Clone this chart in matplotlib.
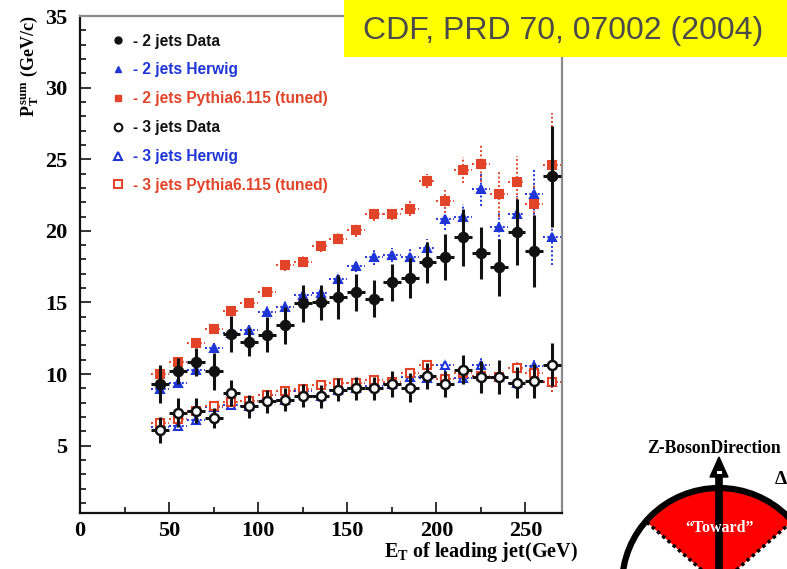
import numpy as np
import matplotlib.pyplot as plt
from matplotlib.patches import Rectangle, Wedge, Circle, Polygon
from matplotlib.lines import Line2D

plt.rcParams['mathtext.fontset'] = 'custom'
plt.rcParams['mathtext.rm'] = 'Liberation Serif:bold'
plt.rcParams['mathtext.it'] = 'Liberation Serif:bold'
plt.rcParams['mathtext.bf'] = 'Liberation Serif:bold'

# data
et = [45, 55, 65, 75, 85, 95, 105, 115, 125, 135, 145, 155, 165, 175, 185,
      195, 205, 215, 225, 235, 245, 255, 265]
et_half = 5

data2 = [9.3, 10.2, 10.85, 10.2, 12.8, 12.25, 12.75, 13.4, 14.95, 15.0, 15.4, 15.7,
         15.25, 16.4, 16.7, 17.8, 18.15, 19.55, 18.45, 17.45, 19.9, 18.6, 23.8]
data2_err = [1.3, 0.9, 1.0, 1.3, 1.25, 1.0, 1.2, 1.3, 1.3, 1.2, 1.55, 1.3, 1.3, 1.3,
             1.4, 1.45, 1.6, 2.0, 1.8, 2.0, 2.3, 2.5, 3.5]
herwig2 = [8.95, 9.35, 10.3, 11.8, 12.9, 13.1, 14.35, 14.7, 15.5, 15.65, 16.65, 17.55,
           18.15, 18.3, 18.2, 18.8, 20.85, 20.95, 22.9, 20.3, 21.2, 22.6, 19.6]
herwig2_err = [0.3, 0.3, 0.3, 0.35, 0.4, 0.35, 0.4, 0.4, 0.4, 0.4, 0.45, 0.45, 0.5,
               0.5, 0.5, 0.6, 0.8, 0.9, 1.2, 1.0, 1.2, 1.8, 2.0]
pythia2 = [10.0, 10.85, 12.15, 13.15, 14.4, 14.95, 15.7, 17.6, 17.85, 18.95, 19.45,
           20.05, 21.15, 21.2, 21.55, 23.5, 22.05, 24.25, 24.7, 22.55, 23.4, 21.85, 24.6]
pythia2_err = [0.3, 0.3, 0.3, 0.35, 0.35, 0.35, 0.35, 0.4, 0.4, 0.4, 0.4, 0.45, 0.45,
               0.45, 0.5, 0.5, 0.8, 0.9, 1.3, 1.6, 1.8, 1.5, 3.6]

data3 = [6.1, 7.3, 7.45, 6.95, 8.7, 7.75, 8.1, 8.2, 8.5, 8.45, 8.9, 9.0, 9.0, 9.3,
         9.05, 9.85, 9.3, 10.3, 9.8, 9.8, 9.4, 9.5, 10.65]
data3_err = [0.9, 1.0, 0.9, 0.7, 0.9, 0.8, 0.8, 0.8, 0.8, 0.8, 0.8, 0.8, 0.8, 0.9,
             1.0, 0.9, 0.9, 1.0, 1.1, 1.2, 1.1, 1.2, 1.5]
herwig3 = [6.3, 6.4, 6.8, 7.7, 7.85, 7.75, 8.55, 8.2, 8.85, 8.45, 8.9, 9.0, 9.15,
           9.3, 9.8, 9.7, 10.6, 9.75, 10.6, 9.8, 9.4, 10.55, 9.45]
pythia3 = [6.6, 6.85, 7.45, 7.75, 8.05, 8.1, 8.55, 8.85, 8.95, 9.25, 9.4, 9.4, 9.6,
           9.45, 10.05, 10.6, 9.65, 10.1, 9.85, 9.8, 10.4, 10.1, 9.45]
mc3_err = [0.25, 0.25, 0.25, 0.25, 0.25, 0.25, 0.3, 0.3, 0.3, 0.3, 0.3, 0.3, 0.35,
           0.35, 0.4, 0.4, 0.45, 0.45, 0.5, 0.5, 0.6, 0.6, 0.7]

labels = ['- 2 jets Data', '- 2 jets Herwig', '- 2 jets Pythia6.115 (tuned)',
          '- 3 jets Data', '- 3 jets Herwig', '- 3 jets Pythia6.115 (tuned)']

black = '#111111'
blue = '#1f35d6'
red = '#e2442a'

W, H = 787, 569
fig = plt.figure(figsize=(W / 100, H / 100), dpi=100)
ax = fig.add_axes([80 / W, 1 - 513 / H, (562 - 80) / W, (513 - 16) / H])


def mc(y, yerr, color, marker, ms, filled):
    eb = ax.errorbar(et, y, yerr=yerr, xerr=et_half, fmt=marker, color=color,
                     ms=ms, mec=color, mfc=color if filled else 'white',
                     mew=1.5, elinewidth=1.4, capsize=0, zorder=3)
    eb[2][0].set_linestyle((0, (1, 1.2)))
    eb[2][1].set_linestyle((0, (1, 1.2)))
    return eb


def dat(y, yerr, marker_fill):
    return ax.errorbar(et, y, yerr=yerr, xerr=et_half, fmt='o', color=black,
                       ms=6.5, mec=black, mfc=marker_fill, mew=1.8,
                       elinewidth=2.2, capsize=0, zorder=4)


mc(herwig3, mc3_err, blue, '^', 6, False)
mc(pythia3, mc3_err, red, 's', 6, False)
dat(data3, data3_err, 'white')
mc(herwig2, herwig2_err, blue, '^', 5.5, True)
mc(pythia2, pythia2_err, red, 's', 6, True)
dat(data2, data2_err, black)

ax.set_xlim(0, 270.5)
ax.set_ylim(0.3, 35)
ax.set_xticks(np.arange(0, 251, 50))
ax.set_xticks(np.arange(25, 270, 50), minor=True)
ax.set_yticks(np.arange(5, 36, 5))
ax.set_yticks(np.arange(1, 35, 1), minor=True)
ax.tick_params(which='both', direction='in', top=False, right=False, width=1.2,
               color=black)
ax.tick_params(which='major', length=8)
ax.tick_params(which='minor', length=4)
ax.tick_params(axis='y', pad=9)
ax.tick_params(axis='x', pad=6)
for lab in ax.get_xticklabels() + ax.get_yticklabels():
    lab.set_fontfamily('Liberation Serif')
    lab.set_fontweight('bold')
    lab.set_fontsize(16)
for s in ['left', 'bottom']:
    ax.spines[s].set_linewidth(1.6)
    ax.spines[s].set_color(black)
for s in ['top', 'right']:
    ax.spines[s].set_linewidth(1.6)
    ax.spines[s].set_color('#8a8a8a')

leg_handles = [
    Line2D([], [], ls='none', marker='o', ms=5, color=black),
    Line2D([], [], ls='none', marker='^', ms=5, color=blue),
    Line2D([], [], ls='none', marker='s', ms=5, color=red),
    Line2D([], [], ls='none', marker='o', ms=5.5, mfc='white', mec=black, mew=1.5),
    Line2D([], [], ls='none', marker='^', ms=5.5, mfc='white', mec=blue, mew=1.5),
    Line2D([], [], ls='none', marker='s', ms=5.5, mfc='white', mec=red, mew=1.5),
]
ax.legend(leg_handles, labels, loc='upper left', bbox_to_anchor=(0.054, 0.977),
          frameon=False, handlelength=0.8, handletextpad=0.55,
          labelspacing=0.89, borderaxespad=0,
          prop={'family': 'Liberation Sans', 'size': 11.2, 'weight': 'bold'},
          labelcolor=[black, blue, red, black, blue, red])

fig.text(30 / W, 1 - 66 / H, r'P$_{\mathrm{T}}^{\,\mathrm{sum}}$ (GeV/c)', rotation=90,
         ha='center', va='center', fontsize=13, fontfamily='Liberation Serif',
         fontweight='bold')
fig.text(578 / W, 1 - 552 / H, r'E$_{\mathrm{T}}$ of leading jet(GeV)', ha='right',
         va='center', fontsize=14.5, fontfamily='Liberation Serif', fontweight='bold')

# slide decorations drawn in pixel coordinates
ov = fig.add_axes([0, 0, 1, 1], zorder=5)
ov.set_xlim(0, W)
ov.set_ylim(H, 0)
ov.axis('off')
ov.patch.set_alpha(0)

ov.add_patch(Rectangle((344, 0), W - 344, 57, color='#ffff00', lw=0))
ov.text(563, 31, 'CDF, PRD 70, 07002 (2004)', ha='center', va='center',
        fontsize=23, color='#4a4a4a', fontfamily='Liberation Sans')

cx, cy, r = 719, 585, 97
ov.add_patch(Wedge((cx, cy), r, 221, 319, color='#ff0000', lw=0))
ov.add_patch(Circle((cx, cy), r, fill=False, lw=4.5, ec='black'))
for ang in (221, 319):
    a = np.radians(ang)
    ov.plot([cx, cx + r * np.cos(a)], [cy, cy + r * np.sin(a)], color='black',
            lw=2.5, ls=(0, (1, 1)))
ov.plot([cx, cx], [H + 5, 474], color='black', lw=5.5, solid_capstyle='butt')
ov.add_patch(Polygon([[710, 477], [728, 477], [719, 457]], closed=True, color='black'))
ov.add_patch(Rectangle((716.5, 471), 5, 4, color='white', lw=0))
ov.text(720, 528, '\u201cToward\u201d', ha='center', va='center', color='white',
        fontsize=11.5, fontfamily='Liberation Serif', fontweight='bold')
ov.text(647, 448, 'Z-BosonDirection', ha='left', va='center', fontsize=12.7,
        fontfamily='Liberation Serif', fontweight='bold', color='black')
ov.text(775, 479, '\u0394', ha='left', va='center', fontsize=14,
        fontfamily='Liberation Serif', fontweight='bold', color='black')
ov.annotate('', xy=(790, 503), xytext=(758, 483),
            arrowprops=dict(arrowstyle='-|>', lw=2.5, color='black', mutation_scale=14))

fig.savefig('out.png', dpi=100)
